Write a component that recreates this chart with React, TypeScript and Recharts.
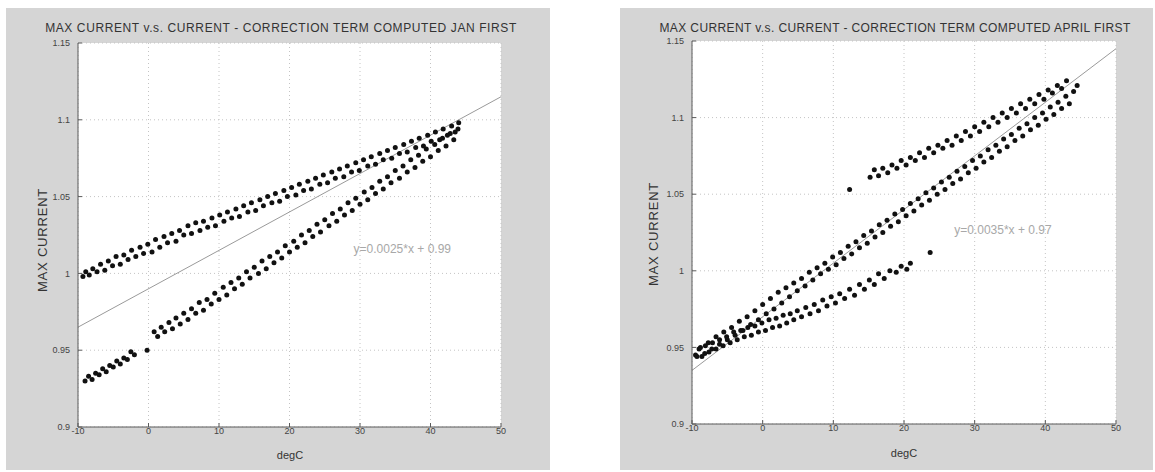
import React from "react"
import {
  CartesianGrid,
  ReferenceDot,
  ReferenceLine,
  Scatter,
  ScatterChart,
  XAxis,
  YAxis,
} from "recharts"

const xTicks = [-10, 0, 10, 20, 30, 40, 50]
const yTicks = [0.9, 0.95, 1, 1.05, 1.1, 1.15]

const janTitle = "MAX CURRENT v.s. CURRENT - CORRECTION TERM COMPUTED JAN FIRST"
const aprTitle = "MAX CURRENT v.s. CURRENT - CORRECTION TERM COMPUTED APRIL FIRST"
const yLabel = "MAX CURRENT"
const xLabel = "degC"

// upper band, january
const janUpper: [number, number][] = [
  [-9.3, 0.998], [-8.9, 1.001], [-8.4, 0.999], [-7.9, 1.003], [-7.3, 1.001], [-6.8, 1.006],
  [-6.2, 1.002], [-5.7, 1.008], [-5.1, 1.005], [-4.6, 1.011], [-4.0, 1.006], [-3.5, 1.012],
  [-2.9, 1.009], [-2.4, 1.015], [-1.8, 1.011], [-1.2, 1.017], [-0.7, 1.013], [-0.1, 1.019],
  [0.5, 1.014], [1.0, 1.022], [1.6, 1.017], [2.2, 1.024], [2.7, 1.020], [3.3, 1.026],
  [3.9, 1.021], [4.4, 1.028], [5.0, 1.025], [5.6, 1.031], [6.1, 1.026], [6.7, 1.033],
  [7.3, 1.028], [7.8, 1.034], [8.4, 1.030], [9.0, 1.036], [9.5, 1.031], [10.1, 1.038],
  [10.7, 1.034], [11.2, 1.040], [11.8, 1.036], [12.4, 1.042], [12.9, 1.037], [13.5, 1.044],
  [14.1, 1.040], [14.6, 1.046], [15.2, 1.041], [15.8, 1.048], [16.3, 1.044], [16.9, 1.050],
  [17.5, 1.046], [18.0, 1.052], [18.6, 1.047], [19.2, 1.054], [19.7, 1.050], [20.3, 1.056],
  [20.9, 1.051], [21.4, 1.058], [22.0, 1.054], [22.6, 1.060], [23.1, 1.055], [23.7, 1.062],
  [24.3, 1.058], [24.8, 1.064], [25.4, 1.059], [26.0, 1.066], [26.5, 1.062], [27.1, 1.068],
  [27.7, 1.063], [28.2, 1.070], [28.8, 1.066], [29.4, 1.072], [29.9, 1.067], [30.5, 1.074],
  [31.1, 1.070], [31.6, 1.076], [32.2, 1.071], [32.8, 1.078], [33.3, 1.074], [33.9, 1.080],
  [34.5, 1.075], [35.0, 1.082], [35.6, 1.078], [36.2, 1.084], [36.7, 1.079], [37.3, 1.086],
  [37.9, 1.082], [38.4, 1.088], [39.0, 1.083], [39.6, 1.090], [40.1, 1.086], [40.7, 1.092],
  [41.3, 1.087], [41.8, 1.094], [42.4, 1.090], [43.0, 1.096], [43.5, 1.092], [44.0, 1.098],
]

// lower band, january
const janLower: [number, number][] = [
  [-9.0, 0.930], [-8.5, 0.933], [-8.0, 0.931], [-7.5, 0.935], [-7.0, 0.934], [-6.5, 0.938],
  [-6.0, 0.936], [-5.5, 0.940], [-5.0, 0.939], [-4.5, 0.943], [-4.0, 0.941], [-3.5, 0.945],
  [-3.0, 0.944], [-2.5, 0.949], [-2.0, 0.947], [-0.2, 0.950], [0.8, 0.962], [1.3, 0.959],
  [1.8, 0.965], [2.3, 0.962], [2.9, 0.968], [3.4, 0.964], [3.9, 0.971], [4.5, 0.967],
  [5.0, 0.974], [5.6, 0.970], [6.1, 0.977], [6.7, 0.974], [7.2, 0.981], [7.8, 0.976],
  [8.3, 0.983], [8.9, 0.980], [9.4, 0.987], [10.0, 0.983], [10.6, 0.991], [11.1, 0.986],
  [11.7, 0.994], [12.2, 0.990], [12.8, 0.997], [13.3, 0.993], [13.9, 1.001], [14.4, 0.997],
  [15.0, 1.004], [15.6, 1.000], [16.1, 1.008], [16.7, 1.003], [17.2, 1.011], [17.8, 1.007],
  [18.3, 1.014], [18.9, 1.010], [19.4, 1.018], [20.0, 1.014], [20.6, 1.021], [21.1, 1.017],
  [21.7, 1.025], [22.2, 1.020], [22.8, 1.028], [23.3, 1.024], [23.9, 1.032], [24.4, 1.027],
  [25.0, 1.035], [25.6, 1.031], [26.1, 1.039], [26.7, 1.034], [27.2, 1.042], [27.8, 1.038],
  [28.3, 1.046], [28.9, 1.041], [29.4, 1.049], [30.0, 1.045], [30.6, 1.053], [31.1, 1.048],
  [31.7, 1.056], [32.2, 1.052], [32.8, 1.060], [33.3, 1.055], [33.9, 1.063], [34.4, 1.059],
  [35.0, 1.067], [35.6, 1.062], [36.1, 1.070], [36.7, 1.066], [37.2, 1.074], [37.8, 1.069],
  [38.3, 1.077], [38.9, 1.073], [39.4, 1.081], [40.0, 1.076], [40.6, 1.084], [41.1, 1.080],
  [41.7, 1.088], [42.2, 1.083], [42.8, 1.091], [43.3, 1.087], [43.9, 1.094],
]

// april: lower band, main band, upper band
const aprLower: [number, number][] = [
  [-9.5, 0.945], [-9.0, 0.949], [-8.6, 0.944], [-8.1, 0.951], [-7.6, 0.947], [-7.1, 0.953],
  [-6.6, 0.949], [-6.1, 0.955], [-5.6, 0.951], [-5.1, 0.957], [-4.6, 0.953], [-4.1, 0.960],
  [-3.6, 0.955], [-3.1, 0.961], [-2.6, 0.957], [-2.1, 0.963], [-1.6, 0.958], [-1.1, 0.964],
  [-0.6, 0.960], [-0.1, 0.966], [0.4, 0.961], [0.9, 0.968], [1.4, 0.963], [1.9, 0.969],
  [2.4, 0.964], [2.9, 0.971], [3.4, 0.966], [3.9, 0.972], [4.4, 0.968], [4.9, 0.974],
  [5.5, 0.970], [6.1, 0.976], [6.7, 0.972], [7.3, 0.978], [7.9, 0.974], [8.5, 0.981],
  [9.1, 0.977], [9.7, 0.983], [10.3, 0.979], [10.9, 0.985], [11.6, 0.982], [12.3, 0.988],
  [13.0, 0.984], [13.7, 0.991], [14.4, 0.988], [15.1, 0.994], [15.8, 0.991], [16.4, 0.998],
  [17.2, 0.995], [18.0, 1.000], [18.9, 0.999], [19.6, 1.003], [20.4, 1.001], [20.9, 1.005],
  [23.7, 1.012],
]

const aprMid: [number, number][] = [
  [-9.3, 0.944], [-8.8, 0.950], [-8.2, 0.946], [-7.7, 0.953], [-7.2, 0.949], [-6.6, 0.957],
  [-6.1, 0.952], [-5.5, 0.960], [-5.0, 0.955], [-4.4, 0.963], [-3.9, 0.958], [-3.3, 0.967],
  [-2.8, 0.961], [-2.2, 0.970], [-1.7, 0.965], [-1.1, 0.974], [-0.6, 0.968], [0.0, 0.978],
  [0.5, 0.972], [1.1, 0.982], [1.6, 0.975], [2.2, 0.986], [2.7, 0.979], [3.3, 0.989],
  [3.8, 0.983], [4.4, 0.992], [4.9, 0.987], [5.5, 0.995], [6.0, 0.990], [6.6, 0.999],
  [7.1, 0.994], [7.7, 1.002], [8.2, 0.998], [8.8, 1.005], [9.3, 1.001], [9.9, 1.009],
  [10.4, 1.004], [11.0, 1.012], [11.5, 1.008], [12.1, 1.016], [12.6, 1.011], [13.2, 1.019],
  [13.7, 1.015], [14.3, 1.023], [14.8, 1.018], [15.4, 1.026], [15.9, 1.022], [16.5, 1.030],
  [17.0, 1.025], [17.6, 1.033], [18.1, 1.029], [18.7, 1.037], [19.2, 1.032], [19.8, 1.040],
  [20.3, 1.036], [20.9, 1.044], [21.4, 1.039], [22.0, 1.047], [22.5, 1.043], [23.1, 1.051],
  [23.6, 1.046], [24.2, 1.054], [24.7, 1.050], [25.3, 1.058], [25.8, 1.053], [26.4, 1.061],
  [26.9, 1.057], [27.5, 1.065], [28.0, 1.060], [28.6, 1.068], [29.1, 1.064], [29.7, 1.072],
  [30.2, 1.067], [30.8, 1.075], [31.3, 1.071], [31.9, 1.079], [32.4, 1.074], [33.0, 1.082],
  [33.5, 1.078], [34.1, 1.086], [34.6, 1.081], [35.2, 1.089], [35.7, 1.085], [36.3, 1.093],
  [36.8, 1.088], [37.4, 1.096], [37.9, 1.092], [38.5, 1.100], [39.0, 1.095], [39.6, 1.103],
  [40.1, 1.099], [40.7, 1.107], [41.2, 1.102], [41.8, 1.110], [42.3, 1.106], [42.9, 1.114],
  [43.4, 1.109], [44.0, 1.117], [44.5, 1.121],
]

const aprUpper: [number, number][] = [
  [12.3, 1.053], [15.2, 1.061], [15.8, 1.066], [16.4, 1.062], [17.0, 1.067], [17.7, 1.064],
  [18.3, 1.069], [19.0, 1.067], [19.6, 1.072], [20.3, 1.069], [20.9, 1.074], [21.6, 1.072],
  [22.2, 1.077], [22.9, 1.074], [23.5, 1.080], [24.2, 1.077], [24.8, 1.082], [25.5, 1.080],
  [26.1, 1.085], [26.8, 1.082], [27.4, 1.088], [28.1, 1.085], [28.7, 1.091], [29.4, 1.088],
  [30.0, 1.094], [30.7, 1.091], [31.3, 1.097], [32.0, 1.094], [32.6, 1.100], [33.3, 1.097],
  [33.9, 1.103], [34.6, 1.100], [35.2, 1.106], [35.9, 1.103], [36.5, 1.109], [37.2, 1.106],
  [37.8, 1.112], [38.5, 1.109], [39.1, 1.115], [39.8, 1.112], [40.4, 1.118], [41.0, 1.116],
  [41.7, 1.121], [42.3, 1.119], [43.0, 1.124],
]

// fitted lines (end points at x=-10 and x=50)
const janFit: [number, number][] = [[-10, 0.965], [50, 1.115]]
const aprFit: [number, number][] = [[-10, 0.935], [50, 1.145]]

const janEquation = "y=0.0025*x + 0.99"
const aprEquation = "y=0.0035*x + 0.97"
const janEqAt: [number, number] = [36, 1.016]
const aprEqAt: [number, number] = [34, 1.027]

const toPts = (arr: [number, number][]) => arr.map(([x, y]) => ({ x, y }))

const Dot = (props: any) => <circle cx={props.cx} cy={props.cy} r={2.5} fill="#111" />

const axisColor = "#5a5a5a"
const tickStyle = { fontSize: 9, fill: "#444" }

type PanelProps = {
  left: number
  width: number
  margin: { top: number; right: number; bottom: number; left: number }
  series: [number, number][][]
  fit: [number, number][]
  eq: string
  eqAt: [number, number]
}

function Panel({ left, width, margin, series, fit, eq, eqAt }: PanelProps) {
  return (
    <div style={{ position: "absolute", left, top: 0 }}>
      <ScatterChart width={width} height={472} margin={margin}>
        <CartesianGrid
          fill="#fff"
          stroke="#c4c4c4"
          strokeDasharray="1 3"
          horizontalValues={yTicks}
          verticalValues={xTicks}
        />
        <XAxis
          dataKey="x"
          type="number"
          domain={[-10, 50]}
          ticks={xTicks}
          height={34}
          tickSize={-4}
          tickMargin={5}
          stroke={axisColor}
          tick={tickStyle}
          allowDataOverflow
        />
        <XAxis
          xAxisId="top"
          orientation="top"
          type="number"
          domain={[-10, 50]}
          ticks={xTicks}
          height={0}
          tickSize={-4}
          tick={false}
          stroke={axisColor}
          allowDataOverflow
        />
        <YAxis
          dataKey="y"
          type="number"
          domain={[0.9, 1.15]}
          ticks={yTicks}
          width={40}
          tickSize={-4}
          tickMargin={12}
          stroke={axisColor}
          tick={tickStyle}
          allowDataOverflow
        />
        <YAxis
          yAxisId="r"
          orientation="right"
          type="number"
          domain={[0.9, 1.15]}
          ticks={yTicks}
          width={0}
          tickSize={-4}
          tick={false}
          stroke={axisColor}
          allowDataOverflow
        />
        <ReferenceLine
          segment={fit.map(([x, y]) => ({ x, y }))}
          stroke="#9a9a9a"
          strokeWidth={1}
          ifOverflow="visible"
        />
        {series.map((s, i) => (
          <Scatter key={i} data={toPts(s)} shape={Dot} isAnimationActive={false} />
        ))}
        <ReferenceDot
          x={eqAt[0]}
          y={eqAt[1]}
          r={0}
          fill="none"
          stroke="none"
          label={{ value: eq, position: "center", fill: "#a8a8a8", fontSize: 12 }}
        />
      </ScatterChart>
    </div>
  )
}

const textBase: React.CSSProperties = {
  position: "absolute",
  whiteSpace: "nowrap",
  color: "#333",
  lineHeight: 1,
}

export default function App() {
  return (
    <div
      style={{
        position: "absolute",
        left: 0,
        top: 0,
        width: 1155,
        height: 472,
        background: "#fff",
        fontFamily: "'Liberation Sans', Arial, sans-serif",
      }}
    >
      <div style={{ position: "absolute", left: 6, top: 8, width: 544, height: 462, background: "#d5d5d5" }} />
      <div style={{ position: "absolute", left: 620, top: 8, width: 533, height: 462, background: "#d5d5d5" }} />

      <Panel
        left={0}
        width={560}
        margin={{ top: 43, right: 59, left: 38, bottom: 11 }}
        series={[janUpper, janLower]}
        fit={janFit}
        eq={janEquation}
        eqAt={janEqAt}
      />
      <Panel
        left={590}
        width={565}
        margin={{ top: 41, right: 39, left: 62, bottom: 14 }}
        series={[aprLower, aprMid, aprUpper]}
        fit={aprFit}
        eq={aprEquation}
        eqAt={aprEqAt}
      />

      <div style={{ ...textBase, left: 281, top: 22, fontSize: 12, transform: "translateX(-50%)", letterSpacing: 0.6 }}>
        {janTitle}
      </div>
      <div style={{ ...textBase, left: 895, top: 22, fontSize: 12, transform: "translateX(-50%)", letterSpacing: 0.4 }}>
        {aprTitle}
      </div>

      <div style={{ ...textBase, left: 42, top: 240, fontSize: 13, letterSpacing: 0.8, transform: "translate(-50%, -50%) rotate(-90deg)" }}>
        {yLabel}
      </div>
      <div style={{ ...textBase, left: 653, top: 234, fontSize: 13, letterSpacing: 0.8, transform: "translate(-50%, -50%) rotate(-90deg)" }}>
        {yLabel}
      </div>

      <div style={{ ...textBase, left: 290, top: 455, fontSize: 11, transform: "translate(-50%, -50%)" }}>{xLabel}</div>
      <div style={{ ...textBase, left: 904, top: 453, fontSize: 11, transform: "translate(-50%, -50%)" }}>{xLabel}</div>
    </div>
  )
}
